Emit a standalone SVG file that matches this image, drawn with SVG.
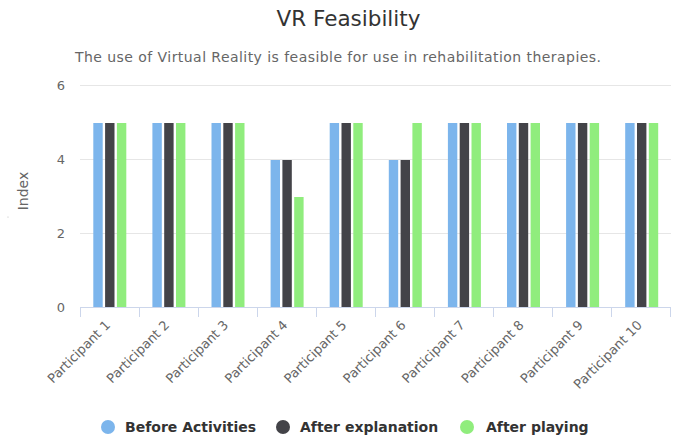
<svg xmlns="http://www.w3.org/2000/svg" width="678" height="440" viewBox="0 0 678 440">
<style>
text{font-family:"DejaVu Sans","Liberation Sans",sans-serif;}
.title{font-size:21.5px;fill:#333333;text-anchor:middle;}
.sub{font-size:14px;fill:#666666;text-anchor:middle;}
.ylab{font-size:13px;fill:#666666;text-anchor:end;}
.xlab{font-size:13px;fill:#666666;text-anchor:end;}
.axt{font-size:14px;fill:#666666;text-anchor:middle;}
.leg{font-size:14px;font-weight:bold;fill:#333333;}
.grid{stroke:#e6e6e6;stroke-width:1;}
.axis{stroke:#ccd6eb;stroke-width:1;fill:none;}
.b{fill:#7cb5ec;}
.d{fill:#434348;}
.g{fill:#90ed7d;}
</style>
<rect width="678" height="440" fill="#ffffff"/>
<text class="title" x="348.5" y="26">VR Feasibility</text>
<text class="sub" x="338" y="62" textLength="526" lengthAdjust="spacing">The use of Virtual Reality is feasible for use in rehabilitation therapies.</text>
<g id="grid">
<line class="grid" x1="80" y1="85.5" x2="671" y2="85.5"/>
<line class="grid" x1="80" y1="159.5" x2="671" y2="159.5"/>
<line class="grid" x1="80" y1="233.5" x2="671" y2="233.5"/>
</g>
<g id="yaxis">
<text class="ylab" x="65" y="90">6</text>
<text class="ylab" x="65" y="164">4</text>
<text class="ylab" x="65" y="238">2</text>
<text class="ylab" x="65" y="312">0</text>
<text class="axt" transform="translate(28,191) rotate(-90)">Index</text>
<circle cx="8" cy="217" r="0.6" fill="#bbbbbb"/>
</g>
<g id="bars">
<rect class="b" x="93.3" y="123" width="9.4" height="184"/><rect class="d" x="105.1" y="123" width="9.4" height="184"/><rect class="g" x="116.9" y="123" width="9.4" height="184"/>
<rect class="b" x="152.4" y="123" width="9.4" height="184"/><rect class="d" x="164.2" y="123" width="9.4" height="184"/><rect class="g" x="176" y="123" width="9.4" height="184"/>
<rect class="b" x="211.5" y="123" width="9.4" height="184"/><rect class="d" x="223.3" y="123" width="9.4" height="184"/><rect class="g" x="235.1" y="123" width="9.4" height="184"/>
<rect class="b" x="270.6" y="160" width="9.4" height="147"/><rect class="d" x="282.4" y="160" width="9.4" height="147"/><rect class="g" x="294.2" y="197" width="9.4" height="110"/>
<rect class="b" x="329.7" y="123" width="9.4" height="184"/><rect class="d" x="341.5" y="123" width="9.4" height="184"/><rect class="g" x="353.3" y="123" width="9.4" height="184"/>
<rect class="b" x="388.8" y="160" width="9.4" height="147"/><rect class="d" x="400.6" y="160" width="9.4" height="147"/><rect class="g" x="412.4" y="123" width="9.4" height="184"/>
<rect class="b" x="447.9" y="123" width="9.4" height="184"/><rect class="d" x="459.7" y="123" width="9.4" height="184"/><rect class="g" x="471.5" y="123" width="9.4" height="184"/>
<rect class="b" x="507" y="123" width="9.4" height="184"/><rect class="d" x="518.8" y="123" width="9.4" height="184"/><rect class="g" x="530.6" y="123" width="9.4" height="184"/>
<rect class="b" x="566.1" y="123" width="9.4" height="184"/><rect class="d" x="577.9" y="123" width="9.4" height="184"/><rect class="g" x="589.7" y="123" width="9.4" height="184"/>
<rect class="b" x="625.2" y="123" width="9.4" height="184"/><rect class="d" x="637" y="123" width="9.4" height="184"/><rect class="g" x="648.8" y="123" width="9.4" height="184"/>
</g>
<g id="xaxis">
<path class="axis" d="M80 307.5H671M80.5 307V317M139.5 307V317M198.5 307V317M257.5 307V317M316.5 307V317M375.5 307V317M434.5 307V317M493.5 307V317M552.5 307V317M611.5 307V317M670.5 307V317"/>
<text class="xlab" transform="translate(111,326) rotate(-45)">Participant 1</text>
<text class="xlab" transform="translate(170.1,326) rotate(-45)">Participant 2</text>
<text class="xlab" transform="translate(229.2,326) rotate(-45)">Participant 3</text>
<text class="xlab" transform="translate(288.3,326) rotate(-45)">Participant 4</text>
<text class="xlab" transform="translate(347.4,326) rotate(-45)">Participant 5</text>
<text class="xlab" transform="translate(406.5,326) rotate(-45)">Participant 6</text>
<text class="xlab" transform="translate(465.6,326) rotate(-45)">Participant 7</text>
<text class="xlab" transform="translate(524.7,326) rotate(-45)">Participant 8</text>
<text class="xlab" transform="translate(583.8,326) rotate(-45)">Participant 9</text>
<text class="xlab" transform="translate(642.9,326) rotate(-45)">Participant 10</text>
</g>
<g id="legend">
<circle class="b" cx="108" cy="427" r="7"/>
<text class="leg" x="125" y="432">Before Activities</text>
<circle class="d" cx="283" cy="427" r="7"/>
<text class="leg" x="300" y="432">After explanation</text>
<circle class="g" cx="467" cy="427" r="7"/>
<text class="leg" x="486" y="432">After playing</text>
</g>
</svg>
